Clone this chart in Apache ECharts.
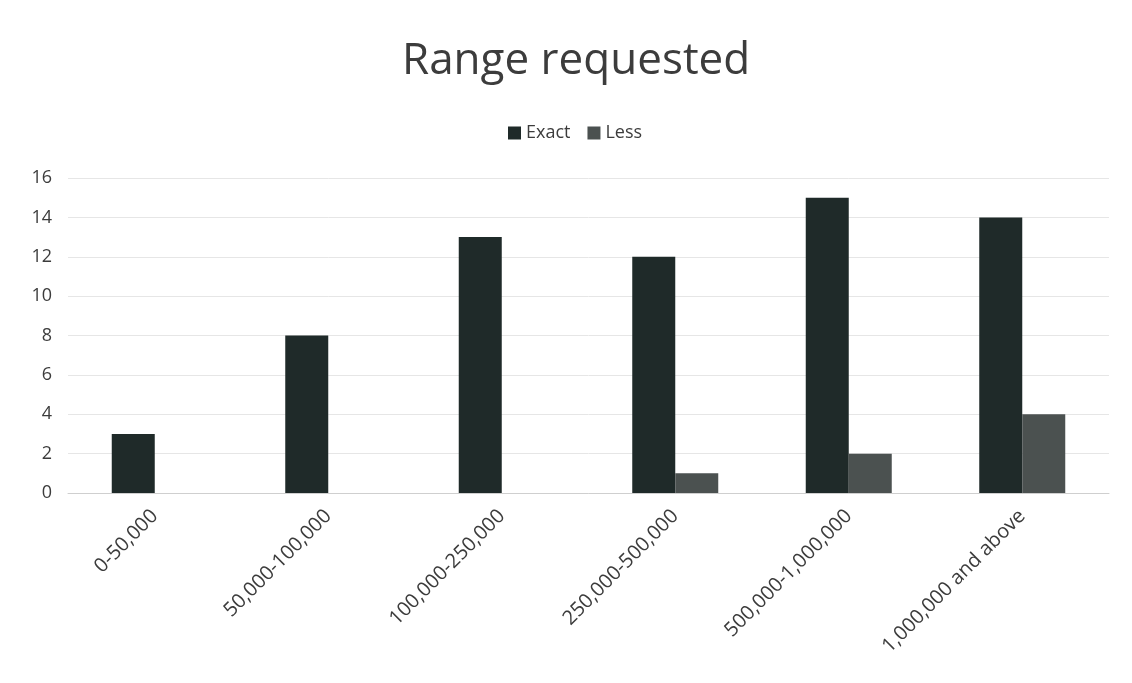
<!DOCTYPE html>
<html>
<head>
<meta charset="utf-8">
<script src="https://cdn.jsdelivr.net/npm/echarts@6/dist/echarts.min.js"></script>
<style>
  html, body { margin: 0; padding: 0; background: #fff; }
  #chart { width: 1132px; height: 683px; }
</style>
</head>
<body>
<div id="chart"></div>
<script>
// data
var categories = ['0-50,000', '50,000-100,000', '100,000-250,000', '250,000-500,000', '500,000-1,000,000', '1,000,000 and above'];
var exactValues = [3, 8, 13, 12, 15, 14];
var lessValues = [0, 0, 0, 1, 2, 4];

var myChart = echarts.init(document.getElementById('chart'));
var textColor = '#3c3c3c';
var fontName = '"Open Sans", "Noto Sans", sans-serif';

var option = {
    animation: false,
    backgroundColor: '#fff',
    title: {
        text: 'Range requested',
        left: 397,
        top: 34,
        textStyle: { fontSize: 44, fontWeight: 'normal', color: textColor, fontFamily: fontName }
    },
    legend: {
        top: 119,
        left: 503,
        itemWidth: 13,
        itemHeight: 13,
        itemGap: 17,
        icon: 'rect',
        textStyle: { fontSize: 18, color: textColor, fontFamily: fontName },
        data: ['Exact', 'Less']
    },
    grid: { left: 68, right: 23, top: 178, bottom: 190 },
    xAxis: {
        type: 'category',
        data: categories,
        axisLine: { lineStyle: { color: '#cfcfcf' } },
        axisTick: { show: false },
        axisLabel: { rotate: 45, fontSize: 20, color: textColor, fontFamily: fontName, margin: 20 }
    },
    yAxis: {
        type: 'value',
        min: 0,
        max: 16,
        interval: 2,
        axisLine: { show: false },
        axisTick: { show: false },
        axisLabel: { fontSize: 18, color: textColor, fontFamily: fontName, margin: 16 },
        splitLine: { lineStyle: { color: '#e6e6e6' } }
    },
    series: [
        {
            name: 'Exact',
            type: 'bar',
            data: exactValues,
            barWidth: 43,
            barGap: '0%',
            itemStyle: { color: '#1f2a29' }
        },
        {
            name: 'Less',
            type: 'bar',
            data: lessValues,
            barWidth: 43,
            itemStyle: { color: '#4b5150' }
        }
    ]
};

myChart.setOption(option);
</script>
</body>
</html>
